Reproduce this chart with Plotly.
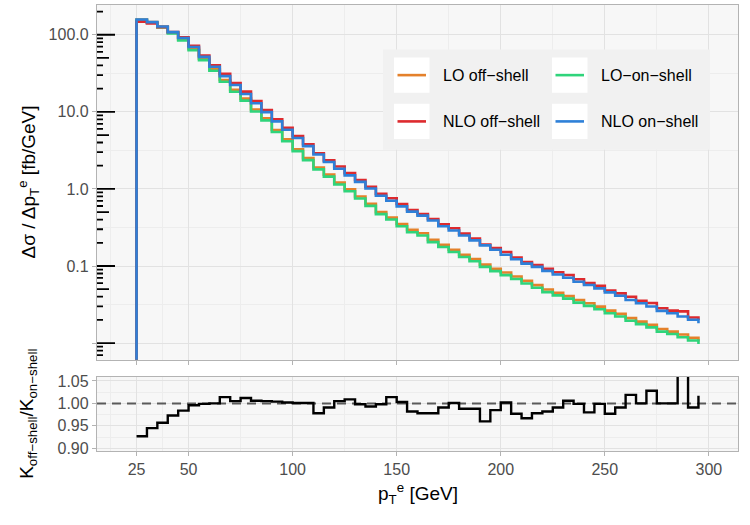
import plotly.graph_objects as go

# ---------------- data ----------------
# lower bin edges in GeV; the 20 GeV bin is empty (drawn at the panel floor)
x_edges = [20, 25, 30, 35, 40, 45, 50, 55, 60, 65, 70, 75, 80, 85, 90, 95, 100,
           105, 110, 115, 120, 125, 130, 135, 140, 145, 150, 155, 160, 165, 170,
           175, 180, 185, 190, 195, 200, 205, 210, 215, 220, 225, 230, 235, 240,
           245, 250, 255, 260, 265, 270, 275, 280, 285, 290, 295]
EMPTY = 1e-6  # empty bin (zero cross section)

lo_off = [157.4, 146.5, 127.3, 106.7, 87.1, 65.5, 48.9, 35.8, 25.89, 19.35,
          14.82, 10.73, 8.22, 5.81, 4.395, 3.276, 2.509, 1.900, 1.531, 1.207,
          0.989, 0.7977, 0.6391, 0.4998, 0.4246, 0.3511, 0.2939, 0.2665, 0.2185, 0.1884,
          0.1624, 0.1400, 0.1233, 0.1041, 0.0917, 0.0823, 0.0731, 0.0642, 0.0565, 0.0495,
          0.0449, 0.0407, 0.0362, 0.0328, 0.0297, 0.0264, 0.0239, 0.0211, 0.0190, 0.0173,
          0.0152, 0.0141, 0.0129, 0.0117, 0.0105]
lo_on = [155.1, 143.6, 124.2, 103.6, 84.2, 63.0, 46.8, 34.1, 24.54, 18.25,
         13.98, 10.12, 7.75, 5.48, 4.146, 3.091, 2.367, 1.792, 1.444, 1.139,
         0.933, 0.7525, 0.6029, 0.4715, 0.4006, 0.3281, 0.2747, 0.2491, 0.2042, 0.1761,
         0.1518, 0.1308, 0.1152, 0.0973, 0.0857, 0.0762, 0.0677, 0.0594, 0.0523, 0.0458,
         0.0416, 0.0377, 0.0335, 0.0304, 0.0275, 0.0244, 0.0221, 0.0195, 0.0176, 0.0160,
         0.0141, 0.0131, 0.0119, 0.0108, 0.0097]
nlo_off = [148.1, 140.4, 125.5, 108.5, 92.4, 72.0, 53.9, 40.3, 31.08, 23.71,
           18.29, 13.80, 10.56, 8.00, 6.230, 4.866, 3.805, 2.899, 2.346, 1.950,
           1.604, 1.305, 1.065, 0.8622, 0.7554, 0.6368, 0.5331, 0.4716, 0.4066, 0.3480,
           0.3093, 0.2632, 0.2271, 0.1902, 0.1714, 0.1517, 0.1292, 0.1122, 0.1029, 0.0917,
           0.0829, 0.0764, 0.0673, 0.0599, 0.0552, 0.0480, 0.0441, 0.0399, 0.0354, 0.0331,
           0.0283, 0.0264, 0.0258, 0.0215, 0.0199]
nlo_on = [157.4, 145.7, 127.9, 108.3, 90.7, 69.5, 51.6, 38.4, 29.05, 22.26,
          17.05, 12.94, 9.91, 7.52, 5.866, 4.586, 3.586, 2.796, 2.233, 1.830,
          1.500, 1.234, 1.012, 0.815, 0.7028, 0.5934, 0.5074, 0.4506, 0.3885, 0.3282,
          0.2888, 0.2490, 0.2148, 0.1852, 0.1626, 0.1402, 0.1224, 0.1074, 0.0974, 0.0865,
          0.0775, 0.0703, 0.0624, 0.0566, 0.0512, 0.0455, 0.0412, 0.0363, 0.0328, 0.0298,
          0.0262, 0.0244, 0.0221, 0.0201, 0.0181]
ratio = [0.927, 0.945, 0.957, 0.973, 0.984, 0.996, 0.999, 1.000, 1.014, 1.005,
         1.012, 1.006, 1.005, 1.004, 1.002, 1.001, 1.001, 0.978, 0.991, 1.005,
         1.009, 0.998, 0.993, 0.998, 1.014, 1.003, 0.982, 0.978, 0.978, 0.991,
         1.001, 0.988, 0.988, 0.960, 0.985, 1.002, 0.977, 0.967, 0.978, 0.982,
         0.991, 1.006, 0.999, 0.980, 0.999, 0.977, 0.991, 1.019, 1.000, 1.028,
         1.000, 1.000, 1.080, 0.991, 1.017]
ratio_ref = 1.0

names = ["LO off\u2212shell", "LO\u2212on\u2212shell", "NLO off\u2212shell", "NLO on\u2212shell"]
colors = ["#e4812b", "#2fd47b", "#dd2a2e", "#2e80d8"]
series = [lo_off, lo_on, nlo_off, nlo_on]

x_ticks = [25, 50, 100, 150, 200, 250, 300]
x_minor = [12.5, 37.5, 75, 125, 175, 225, 275]
y_ticks = [0.01, 0.1, 1, 10, 100]
y_ticktext = ["", "0.1", "1.0", "10.0", "100.0"]
y_minor = [0.00316, 0.0316, 0.316, 3.16, 31.6]
r_ticks = [0.90, 0.95, 1.00, 1.05]
r_ticktext = ["0.90", "0.95", "1.00", "1.05"]
r_minor = [0.925, 0.975, 1.025]

# ---------------- geometry ----------------
W, H = 750, 525
ML, MR, MT, MB = 97, 12, 1, 74
PW = W - ML - MR
PH = H - MT - MB
TOP_BOTTOM_PX = 359
BOT_TOP_PX = 376
top_dom = [(H - MB - TOP_BOTTOM_PX) / PH, 1.0]
bot_dom = [0.0, (H - MB - BOT_TOP_PX) / PH]
YLOG_RANGE = [-2.217, 2.386]
XRANGE = [6, 314]

FONT = "Liberation Sans, Arial, sans-serif"
TICKC = "#4d4d4d"
BORDER = "#b3b3b3"
GRID = "#e2e2e2"
GRIDMIN = "#ededed"
BG = "#f7f7f7"

fig = go.Figure()

for name, col, vals in zip(names, colors, series):
    fig.add_trace(go.Scatter(x=x_edges, y=[EMPTY] + vals, mode="lines", name=name,
                             line=dict(color=col, width=2.6, shape="hv"),
                             xaxis="x", yaxis="y", showlegend=False, hoverinfo="skip"))

# dashed reference line at K ratio = 1 across the whole ratio panel
fig.add_trace(go.Scatter(x=XRANGE, y=[ratio_ref, ratio_ref], mode="lines",
                         line=dict(color="#5a5a5a", width=2, dash="9px,6px"),
                         xaxis="x2", yaxis="y2", showlegend=False, hoverinfo="skip"))

fig.add_trace(go.Scatter(x=x_edges[1:], y=ratio, mode="lines",
                         line=dict(color="black", width=2.4, shape="hv"),
                         xaxis="x2", yaxis="y2", showlegend=False, hoverinfo="skip"))

# log ticks (annotation_logticks style) drawn inside the left of the top panel
lt_x, lt_y = [], []
lo_v, hi_v = 10 ** YLOG_RANGE[0], 10 ** YLOG_RANGE[1]
for e in range(-3, 3):
    for k in range(1, 10):
        v = k * 10 ** e
        if lo_v <= v <= hi_v:
            L = 18 if k == 1 else (12 if k == 5 else 6)
            lt_x += [0, L, None]
            lt_y += [v, v, None]
fig.add_trace(go.Scatter(x=lt_x, y=lt_y, mode="lines", line=dict(color="black", width=1.8),
                         xaxis="x3", yaxis="y", showlegend=False, hoverinfo="skip"))

common_x = dict(range=XRANGE, tickvals=x_ticks, showgrid=True, gridcolor=GRID, gridwidth=1,
                minor=dict(tickmode="array", tickvals=x_minor, showgrid=True,
                           gridcolor=GRIDMIN, gridwidth=0.8, ticks=""),
                showline=True, mirror=True, linecolor=BORDER, linewidth=1.3,
                ticks="outside", ticklen=4, tickcolor=BORDER, tickwidth=1.1,
                zeroline=False, domain=[0, 1])

fig.update_layout(
    width=W, height=H, margin=dict(l=ML, r=MR, t=MT, b=MB),
    paper_bgcolor="white", plot_bgcolor=BG,
    font=dict(family=FONT, size=16, color=TICKC),
    xaxis=dict(anchor="y", showticklabels=False, **common_x),
    xaxis2=dict(anchor="y2", showticklabels=True, tickfont=dict(size=16, color=TICKC),
                **common_x),
    xaxis3=dict(overlaying="x", anchor="y", range=[0, PW], visible=False, domain=[0, 1]),
    yaxis=dict(type="log", domain=top_dom, range=YLOG_RANGE, tickvals=y_ticks,
               ticktext=y_ticktext, showgrid=True, gridcolor=GRID, gridwidth=1,
               minor=dict(tickmode="array", tickvals=y_minor, showgrid=True,
                          gridcolor=GRIDMIN, gridwidth=0.8, ticks=""),
               showline=True, mirror=True, linecolor=BORDER, linewidth=1.3,
               ticks="outside", ticklen=4, tickcolor=BORDER, tickwidth=1.1,
               tickfont=dict(size=16, color=TICKC), zeroline=False, anchor="x"),
    yaxis2=dict(domain=bot_dom, range=[0.894, 1.0595], tickvals=r_ticks, ticktext=r_ticktext,
                showgrid=True, gridcolor=GRID, gridwidth=1,
                minor=dict(tickmode="array", tickvals=r_minor, showgrid=True,
                           gridcolor=GRIDMIN, gridwidth=0.8, ticks=""),
                showline=True, mirror=True, linecolor=BORDER, linewidth=1.3,
                ticks="outside", ticklen=4, tickcolor=BORDER, tickwidth=1.1,
                tickfont=dict(size=16, color=TICKC), zeroline=False, anchor="x2"),
)

# axis titles
TITLE_X_PX = 28
fig.add_annotation(text="\u0394\u03c3 / \u0394p<sub>T</sub><sup>e</sup> [fb/GeV]",
                   xref="paper", yref="paper", x=0, y=sum(top_dom) / 2,
                   xshift=TITLE_X_PX - ML, textangle=-90, showarrow=False,
                   xanchor="center", yanchor="middle",
                   font=dict(family=FONT, size=19, color="black"))
fig.add_annotation(text="K<sub>off\u2212shell</sub>/K<sub>on\u2212shell</sub>",
                   xref="paper", yref="paper", x=0, y=sum(bot_dom) / 2,
                   xshift=TITLE_X_PX - ML, textangle=-90, showarrow=False,
                   xanchor="center", yanchor="middle",
                   font=dict(family=FONT, size=19, color="black"))
fig.add_annotation(text="p<sub>T</sub><sup>e</sup> [GeV]",
                   xref="paper", yref="paper", x=0.5, y=0, yshift=-(493 - (H - MB)),
                   showarrow=False, xanchor="center", yanchor="middle",
                   font=dict(family=FONT, size=19, color="black"))

# manual legend (2 x 2 with white key boxes)
def px_x(p):
    return (p - ML) / PW

def px_y(p):
    return (H - MB - p) / PH

fig.add_shape(type="rect", xref="paper", yref="paper",
              x0=px_x(383), x1=px_x(710), y0=px_y(147), y1=px_y(46),
              fillcolor="#f1f1f1", line=dict(width=0))
key_cols = [394, 552]
key_rows = [54, 100.7]
KEY = 35.5
for i, (name, col) in enumerate(zip(names, colors)):
    r, c = divmod(i, 2)
    kx, ky = key_cols[c], key_rows[r]
    fig.add_shape(type="rect", xref="paper", yref="paper",
                  x0=px_x(kx), x1=px_x(kx + KEY), y0=px_y(ky + KEY), y1=px_y(ky),
                  fillcolor="white", line=dict(width=0))
    cy = ky + KEY / 2
    fig.add_shape(type="line", xref="paper", yref="paper",
                  x0=px_x(kx + 3.5), x1=px_x(kx + KEY - 3.5), y0=px_y(cy), y1=px_y(cy),
                  line=dict(color=col, width=2.6))
    fig.add_annotation(text=name, xref="paper", yref="paper", x=px_x(kx + KEY + 11),
                       y=px_y(cy), xanchor="left", yanchor="middle", showarrow=False,
                       font=dict(family=FONT, size=16, color="black"))

fig.write_html("out.html")
